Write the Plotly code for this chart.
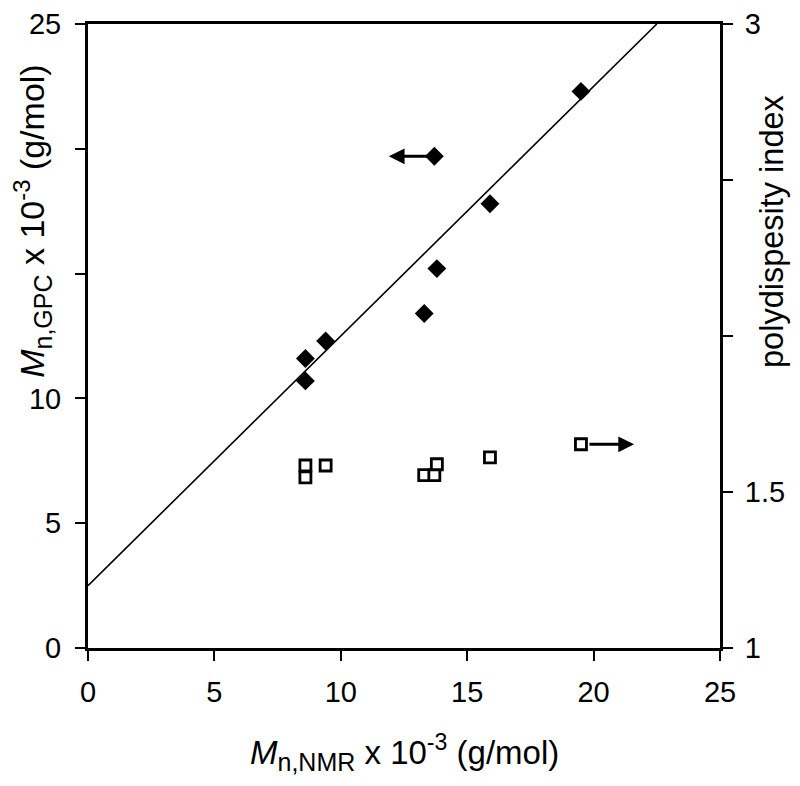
import plotly.graph_objects as go

# Mn (NMR) vs Mn (GPC), both x 10^-3 g/mol
mn_nmr = [8.6, 8.6, 9.4, 13.3, 13.8, 13.7, 15.9, 19.5]
mn_gpc = [11.6, 10.7, 12.3, 13.4, 15.2, 19.7, 17.8, 22.3]

# polydispersity index (right axis)
pdi_x = [8.6, 8.6, 9.4, 13.3, 13.7, 13.8, 15.9, 19.5]
pdi = [1.585, 1.547, 1.585, 1.554, 1.554, 1.589, 1.611, 1.653]

# linear fit
fit_x = [0, 22.5]
fit_y = [2.5, 25]

left_ticks = [0, 5, 10, 15, 20, 25]
left_text = ["0", "5", "10", "", "", "25"]
right_ticks = [1, 1.5, 2, 2.5, 3]
right_text = ["1", "1.5", "", "", "3"]
x_ticks = [0, 5, 10, 15, 20, 25]

FONT = "Arial, Liberation Sans, sans-serif"

fig = go.Figure()
fig.add_trace(go.Scatter(x=fit_x, y=fit_y, mode="lines",
                         line=dict(color="black", width=1.6)))
fig.add_trace(go.Scatter(x=mn_nmr, y=mn_gpc, mode="markers",
                         marker=dict(symbol="diamond", size=14.5, color="black")))
fig.add_trace(go.Scatter(x=pdi_x, y=pdi, mode="markers", yaxis="y2",
                         marker=dict(symbol="square", size=11, color="white",
                                     line=dict(color="black", width=2.8))))

axis_common = dict(showgrid=False, zeroline=False, showline=True,
                   linecolor="black", linewidth=3, tickcolor="black",
                   tickwidth=1.5, ticklen=10, automargin=False,
                   tickfont=dict(family=FONT, size=29, color="black"))

# the page body has an 8px margin, so the figure is 8px smaller
fig.update_layout(
    width=792, height=778,
    margin=dict(l=80, r=80, t=16, b=138),
    plot_bgcolor="white", paper_bgcolor="white",
    showlegend=False,
    xaxis=dict(range=[0, 25], tickvals=x_ticks, ticks="outside",
               mirror=True, ticklabelstandoff=6, **axis_common),
    yaxis=dict(range=[0, 25], tickvals=left_ticks, ticktext=left_text,
               ticks="outside", ticklabelstandoff=8, **axis_common),
    yaxis2=dict(range=[1, 3], tickvals=right_ticks, ticktext=right_text,
                ticks="outside", overlaying="y", side="right", anchor="x",
                ticklabelstandoff=6, **axis_common),
    yaxis3=dict(range=[1, 3], tickvals=right_ticks, ticks="inside",
                showticklabels=False, overlaying="y", side="right", anchor="x",
                showgrid=False, zeroline=False, showline=False, automargin=False,
                tickcolor="black", tickwidth=1.5, ticklen=10),
)

fig.add_annotation(x=11.9, y=19.7, ax=13.7, ay=19.7, xref="x", yref="y",
                   axref="x", ayref="y", text="", showarrow=True,
                   arrowhead=2, arrowsize=1.05, arrowwidth=3, arrowcolor="black")
fig.add_annotation(x=21.6, y=1.653, ax=19.5, ay=1.653, xref="x", yref="y2",
                   axref="x", ayref="y2", text="", showarrow=True,
                   arrowhead=2, arrowsize=1.05, arrowwidth=3, arrowcolor="black",
                   startstandoff=7)

# axis titles
sub = '<sub><span style="font-size:25px">%s</span></sub>'
fig.add_annotation(x=0.5, y=-0.167, xref="paper", yref="paper",
                   xanchor="center", yanchor="middle",
                   text="<i>M</i>" + sub % "n,NMR" + " x 10<sup>-3</sup> (g/mol)",
                   showarrow=False, font=dict(family=FONT, size=33, color="black"))
fig.add_annotation(x=-0.0886, y=0.683, xref="paper", yref="paper", textangle=-90,
                   xanchor="center", yanchor="middle",
                   text="<i>M</i>" + sub % "n,GPC" + " x 10<sup>-3</sup> (g/mol)",
                   showarrow=False, font=dict(family=FONT, size=34, color="black"))
fig.add_annotation(x=1.082, y=0.668, xref="paper", yref="paper", textangle=-90,
                   xanchor="center", yanchor="middle",
                   text="polydispesity index",
                   showarrow=False, font=dict(family=FONT, size=32.5, color="black"))

fig.write_html("out.html")
